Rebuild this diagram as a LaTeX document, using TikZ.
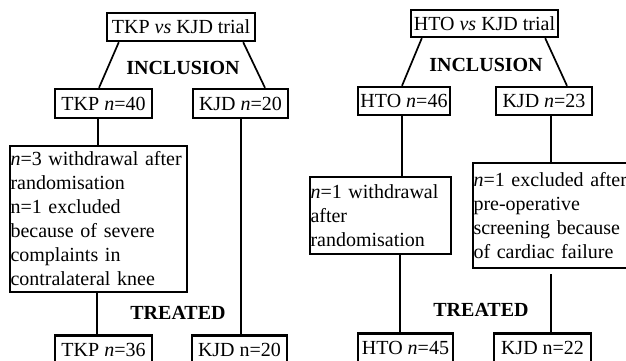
\documentclass[tikz,border=0pt]{standalone}
\usepackage{fontspec}
\setmainfont{Liberation Serif}
\usetikzlibrary{calc}
\begin{document}
\begin{tikzpicture}[x=1pt,y=-1pt,
  box/.style={draw, line width=2.4pt, inner sep=0.5pt, font=\fontsize{20}{24}\selectfont},
  wide/.style={box, align=left},
  conn/.style={line width=1.7pt},
  lab/.style={font=\fontsize{20}{24}\selectfont\bfseries, inner sep=0pt}]
\useasboundingbox (0,0) rectangle (626,360);
% ---------- left trial ----------
\node[box, minimum width=148pt, minimum height=28pt] (t1) at (181,27) {TKP \textit{vs} KJD trial};
\node[box, minimum width=97pt, minimum height=29pt] (tkp40) at (103.5,103.5) {TKP \textit{n}=40};
\node[box, minimum width=95pt, minimum height=29pt] (kjd20) at (240.5,103.5) {KJD \textit{n}=20};
\node[wide, minimum width=177pt, minimum height=146pt, text width=176pt] (big) at (98.5,219)
  {\textit{n}=3 withdrawal after\\ randomisation\\ n=1 excluded\\ because of severe\\ complaints in\\ contralateral knee};
\node[box, minimum width=97pt, minimum height=29pt] (tkp36) at (103.5,350) {TKP \textit{n}=36};
\node[box, minimum width=95pt, minimum height=29pt] (kjd20b) at (239.5,350) {KJD n=20};
\node[lab] (inc1) at (183,68) {INCLUSION};
\node[lab] (tr1) at (178,313) {TREATED};
\draw[conn] ([xshift=13pt]t1.south west) -- ([xshift=-4.5pt]tkp40.north);
\draw[conn] ([xshift=-13pt]t1.south east) -- ([xshift=24.5pt]kjd20.north);
\draw[conn] ([xshift=-5.5pt]tkp40.south) -- ([xshift=-5.5pt]tkp40.south |- big.north);
\draw[conn] ([xshift=-1.5pt]big.south) -- ([xshift=-1.5pt]big.south |- tkp36.north);
\draw[conn] ([xshift=0.5pt]kjd20.south) -- ([xshift=0.5pt]kjd20.south |- kjd20b.north);
% ---------- right trial ----------
\node[box, minimum width=147pt, minimum height=27pt] (t2) at (484.5,23.5) {HTO \textit{vs} KJD trial};
\node[box, minimum width=92pt, minimum height=28pt] (hto46) at (404,101) {HTO \textit{n}=46};
\node[box, minimum width=96pt, minimum height=28pt] (kjd23) at (544,101) {KJD \textit{n}=23};
\node[wide, minimum width=141pt, minimum height=77pt, text width=140pt] (hto) at (380.5,215.5)
  {\textit{n}=1 withdrawal\\ after\\ randomisation};
\node[wide, minimum width=161pt, minimum height=105pt, text width=160pt] (excl) at (553.5,215.5)
  {\textit{n}=1 excluded after\\ pre-operative\\ screening because\\ of cardiac failure};
\node[box, minimum width=95pt, minimum height=29pt] (hto45) at (405.5,348) {HTO \textit{n}=45};
\node[box, minimum width=97pt, minimum height=29pt] (kjd22) at (542.5,348) {KJD n=22};
\node[lab] (inc2) at (486,65) {INCLUSION};
\node[lab] (tr2) at (481,310) {TREATED};
\draw[conn] ([xshift=12pt]t2.south west) -- ([xshift=-2pt]hto46.north);
\draw[conn] ([xshift=-14pt]t2.south east) -- ([xshift=23pt]kjd23.north);
\draw[conn] ([xshift=-2pt]hto46.south) -- ([xshift=-2pt]hto46.south |- hto.north);
\draw[conn] ([xshift=-5.5pt]hto45.north |- hto.south) -- ([xshift=-5.5pt]hto45.north);
\draw[conn] ([xshift=7pt]kjd23.south) -- ([xshift=7pt]kjd23.south |- excl.north);
\draw[conn, shorten <=5pt] ([xshift=8.5pt]kjd22.north |- excl.south) -- ([xshift=8.5pt]kjd22.north);
\end{tikzpicture}
\end{document}
